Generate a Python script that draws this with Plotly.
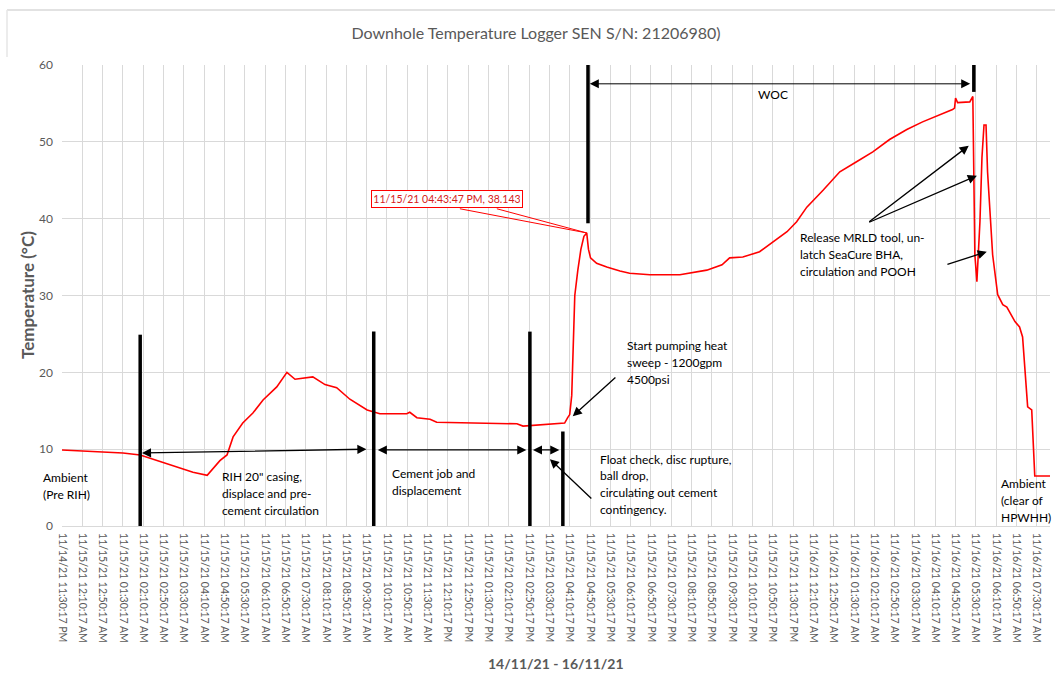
import pandas as pd
import plotly.graph_objects as go

# ---------------- data ----------------
START = pd.Timestamp("2021-11-14 23:30:17")
TICK_STEP_MIN = 40
X_END_MIN = 1946

elapsed_min = [0, 120, 154, 199, 258, 286, 311, 325, 337, 356, 376, 396, 423, 443, 459,
               494, 518, 541, 567, 601, 626, 679, 685, 699, 725, 738, 797, 896, 908, 961,
               990, 996, 1000, 1004, 1007, 1010, 1016, 1022, 1028, 1033.5, 1037, 1041, 1053,
               1073, 1099, 1118, 1158, 1217, 1270, 1300, 1315, 1341, 1374, 1400, 1428, 1447,
               1467, 1499, 1532, 1565, 1597, 1630, 1664, 1695, 1729, 1754, 1758, 1760, 1764,
               1788, 1794, 1796, 1798, 1802, 1808, 1812, 1816, 1820, 1823, 1833, 1843, 1853,
               1861, 1877, 1886, 1892, 1902, 1910, 1916, 1946]
temp_c = [9.9, 9.5, 9.25, 8.3, 7.0, 6.6, 8.5, 9.25, 11.6, 13.4, 14.7, 16.4, 18.1, 20.0, 19.1,
          19.4, 18.4, 18.0, 16.5, 15.1, 14.6, 14.6, 14.8, 14.1, 13.9, 13.5, 13.4, 13.3, 13.0, 13.3,
          13.4, 14.1, 14.5, 17.0, 25.0, 30.0, 33.3, 36.0, 37.7, 38.143, 36.0, 34.9, 34.2,
          33.7, 33.2, 32.9, 32.7, 32.7, 33.3, 34.0, 34.9, 35.0, 35.7, 37.0, 38.3, 39.6,
          41.5, 43.7, 46.1, 47.4, 48.7, 50.3, 51.6, 52.6, 53.5, 54.2, 54.4, 55.7, 55.1,
          55.2, 55.9, 44.0, 35.3, 31.8, 39.6, 48.0, 52.2, 52.2, 46.1, 35.3, 30.1, 28.8,
          28.5, 26.6, 25.9, 24.6, 15.5, 15.1, 6.5, 6.5]

peak_label = "11/15/21 04:43:47 PM, 38.143"
peak_min = 1033.5
peak_temp = 38.143

title_text = "Downhole Temperature Logger SEN S/N: 21206980)"
y_title = "Temperature (°C)"
x_title = "14/11/21 - 16/11/21"


def T(m):
    return (START + pd.Timedelta(minutes=m)).strftime("%Y-%m-%d %H:%M:%S.%f")[:-3]


times = [T(m) for m in elapsed_min]

FONT = "Lato"
GRID = "#d9d9d9"
TXT = "#595959"

fig = go.Figure()
fig.add_trace(go.Scatter(x=times, y=temp_c, mode="lines",
                         line=dict(color="#ff0000", width=1.6), hoverinfo="skip",
                         showlegend=False))

# ---------------- event marker lines ----------------
event_lines = [(154, 0, 24.9), (614, 0, 25.3), (921.6, 0, 25.3), (986.5, 0, 12.3),
               (1036, 39.4, 60.5), (1796, 56.5, 60)]
for m, y0, y1 in event_lines:
    fig.add_shape(type="line", xref="x", yref="y", x0=T(m), x1=T(m), y0=y0, y1=y1,
                  line=dict(color="black", width=3.5))

# data label leader lines
for m0 in (783.7, 856.5):
    fig.add_shape(type="line", xref="x", yref="y", x0=T(m0), y0=41.29,
                  x1=T(peak_min), y1=peak_temp, line=dict(color="#ff0000", width=1))

# ---------------- arrows ----------------
# (head_min, head_v, tail_min, tail_v, double, width)
arrows = [
    (157.5, 9.5, 602.6, 10.0, True, 1.3),
    (622, 9.9, 917.6, 9.9, True, 1.3),
    (927.5, 9.9, 982.6, 9.9, True, 1.3),
    (1039.6, 57.55, 1791.8, 57.55, True, 1.0),
    (1006, 14.3, 1093, 19.5, False, 1.3),
    (961, 8.7, 1045.6, 3.4, False, 1.3),
    (1786, 49.5, 1587, 39.45, False, 1.3),
    (1802, 45.6, 1587, 39.45, False, 1.3),
    (1821.5, 35.7, 1741, 34.0, False, 1.3),
]
for hm, hv, tm, tv, dbl, w in arrows:
    fig.add_annotation(x=T(hm), y=hv, ax=T(tm), ay=tv, xref="x", yref="y",
                       axref="x", ayref="y", text="", showarrow=True,
                       arrowhead=2, arrowsize=1.4 if w > 1.1 else 1.8, arrowwidth=w,
                       arrowcolor="black", standoff=0, startstandoff=0,
                       startarrowhead=2, startarrowsize=1.4 if w > 1.1 else 1.8,
                       arrowside="end+start" if dbl else "end")

# ---------------- text labels ----------------
LINE_STEP = 2.21
labels = [
    (311.1, 6.38, ['RIH 20" casing,', "displace and pre-", "cement circulation"]),
    (645.8, 6.77, ["Cement job and", "displacement"]),
    (1108.5, 23.43, ["Start pumping heat", "sweep - 1200gpm", "4500psi"]),
    (1055.4, 8.72, ["Float check, disc rupture,", "ball drop,",
                    "circulating out cement", "contingency."]),
    (1449.2, 37.49, ["Release MRLD tool, un-", "latch SeaCure BHA,",
                     "circulation and POOH"]),
    (1845, 5.47, ["Ambient", "(clear of", "HPWHH)"]),
]
for m, v0, lines in labels:
    for i, ln in enumerate(lines):
        fig.add_annotation(x=T(m), y=v0 - i * LINE_STEP, xref="x", yref="y", text=ln,
                           showarrow=False, xanchor="left", yanchor="middle",
                           font=dict(family=FONT, size=12, color="black"))

# label left of the plot area (paper coordinates)
for i, ln in enumerate(["Ambient", "(Pre RIH)"]):
    fig.add_annotation(x=(41 - 62) / 988, y=(526 - 477 - i * 17) / 461, xref="paper",
                       yref="paper", text=ln, showarrow=False, xanchor="left",
                       yanchor="middle", font=dict(family=FONT, size=12, color="black"))

fig.add_annotation(x=T(1400), y=56.1, xref="x", yref="y", text="WOC", showarrow=False,
                   xanchor="center", yanchor="middle",
                   font=dict(family=FONT, size=12, color="black"))

# data label box
fig.add_annotation(x=T(759), y=42.5, xref="x", yref="y", text=peak_label, showarrow=False,
                   xanchor="center", yanchor="middle", bgcolor="white",
                   bordercolor="#ff0000", borderwidth=1, borderpad=2, width=146,
                   font=dict(family=FONT, size=10.5, color="#d62020"))

# axis titles (as annotations)
fig.add_annotation(x=(27 - 62) / 988, y=(526 - 295) / 461, xref="paper", yref="paper",
                   text=f"<b>{y_title}</b>", showarrow=False, textangle=-90,
                   xanchor="center", yanchor="middle",
                   font=dict(family=FONT, size=17, color=TXT))
fig.add_annotation(x=(556 - 62) / 988, y=(526 - 663) / 461, xref="paper", yref="paper",
                   text=f"<b>{x_title}</b>", showarrow=False,
                   xanchor="center", yanchor="middle",
                   font=dict(family=FONT, size=14, color=TXT))

# chart frame fragments
fx = (7 - 62) / 988
fy = (526 - 10) / 461
fig.add_shape(type="line", xref="paper", yref="paper", x0=fx, x1=1.01, y0=fy, y1=fy,
              line=dict(color="#d9d9d9", width=1.5))
fig.add_shape(type="line", xref="paper", yref="paper", x0=fx, x1=fx, y0=fy,
              y1=(526 - 57) / 461, line=dict(color="#e6e6e6", width=1.5))

fig.update_layout(
    width=1055, height=673,
    margin=dict(l=62, r=5, t=65, b=147),
    paper_bgcolor="white", plot_bgcolor="white",
    title=dict(text=title_text, x=536 / 1055, y=1 - 33 / 673, xref="container",
               yref="container", xanchor="center", yanchor="middle",
               font=dict(family=FONT, size=16, color=TXT)),
    font=dict(family=FONT, color=TXT),
    showlegend=False,
)
fig.update_xaxes(
    type="date", range=[T(0), T(X_END_MIN)], tick0=T(0), dtick=TICK_STEP_MIN * 60 * 1000,
    tickformat="%m/%d/%y %I:%M:%S %p", tickangle=90, showgrid=True, gridcolor=GRID,
    gridwidth=1, showline=True, linecolor=GRID, linewidth=1, ticks="",
    tickfont=dict(family=FONT, size=10.5, color=TXT), ticklabelstandoff=4,
    zeroline=False, fixedrange=True,
)
fig.update_yaxes(
    range=[0, 60], dtick=10, showgrid=True, gridcolor=GRID, gridwidth=1,
    zeroline=False, showline=False, ticks="", ticklabelstandoff=8,
    tickfont=dict(family=FONT, size=12, color=TXT), fixedrange=True,
)

fig.write_html("out.html", config={"displayModeBar": False},
               post_script="document.body.style.margin='0';document.body.style.overflow='hidden';")
